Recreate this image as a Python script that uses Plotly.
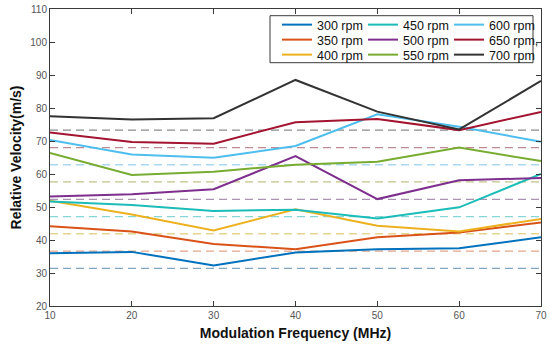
import plotly.graph_objects as go

freq = [10, 20, 30, 40, 50, 60, 70]
labels = ["300 rpm", "350 rpm", "400 rpm", "450 rpm", "500 rpm", "550 rpm", "600 rpm", "650 rpm,", "700 rpm"]
v300 = [36.0, 36.4, 32.3, 36.2, 37.2, 37.5, 40.8]
v350 = [44.2, 42.6, 38.8, 37.2, 40.8, 42.3, 45.3]
v400 = [51.9, 47.7, 42.9, 49.3, 44.3, 42.6, 46.4]
v450 = [51.7, 50.6, 48.8, 49.2, 46.5, 49.9, 60.0]
v500 = [53.2, 53.9, 55.4, 65.4, 52.4, 58.1, 58.8]
v550 = [66.4, 59.7, 60.7, 62.8, 63.7, 68.0, 63.9]
v600 = [70.3, 65.9, 64.9, 68.5, 78.1, 74.3, 69.8]
v650 = [72.6, 69.7, 69.2, 75.7, 76.7, 73.3, 78.8]
v700 = [77.5, 76.5, 76.9, 88.5, 78.9, 73.5, 88.2]
series = [v300, v350, v400, v450, v500, v550, v600, v650, v700]
ref_levels = [31.4, 36.6, 41.9, 47.1, 52.3, 57.6, 62.8, 68.0, 73.3]

colors = ["#0072BD", "#D95319", "#EDB120", "#1CBDB8", "#7E2F8E", "#77AC30", "#4DBEEE", "#A2142F", "#333333"]
ref_colors = ["#7fa7c0", "#e3a58a", "#e5d48f", "#86d6d6", "#a993b0", "#c2c48a", "#a9d8ef", "#c08a95", "#8c8c8c"]

font_family = "Liberation Sans, Arial, sans-serif"

# legend grid: 3 columns x 3 rows (column-major like the original)
plot_l, plot_r, plot_t, plot_b = 50, 9, 9, 38
plot_w = 550 - plot_l - plot_r
plot_h = 344 - plot_t - plot_b
col_text_px = [308, 394, 480]
row_center_px = [25, 40, 55]

def px_x(px):
    return (px - plot_l) / plot_w

def px_y(py):
    return (344 - plot_b - py) / plot_h

fig = go.Figure()
for lvl, c in zip(ref_levels, ref_colors):
    fig.add_trace(go.Scatter(x=[freq[0], freq[-1]], y=[lvl, lvl], mode="lines",
                             line=dict(color=c, width=1.3, dash="8px,5px"),
                             showlegend=False, hoverinfo="skip"))

legend_layouts = {}
for i, (lab, vals, c) in enumerate(zip(labels, series, colors)):
    key = "legend" if i == 0 else f"legend{i + 1}"
    fig.add_trace(go.Scatter(x=freq, y=vals, mode="lines", name=lab,
                             line=dict(color=c, width=2), legend=key))
    col, row = divmod(i, 3)
    legend_layouts[key] = dict(
        x=px_x(col_text_px[col] - 31), y=px_y(row_center_px[row]),
        xanchor="left", yanchor="middle",
        bgcolor="rgba(0,0,0,0)", borderwidth=0,
        font=dict(size=12.5, color="#111111", family=font_family),
        itemwidth=30)

axis_common = dict(showline=True, linecolor="#3a3a3a", linewidth=1, mirror="ticks",
                   ticks="inside", ticklen=5, tickcolor="#3a3a3a", showgrid=False,
                   zeroline=False, tickfont=dict(size=10, color="#555555", family=font_family))
fig.update_xaxes(range=[10, 70], tickvals=freq, ticklabeloverflow="allow",
                 title=dict(text="<b>Modulation Frequency (MHz)</b>",
                            font=dict(size=14, color="#111111", family=font_family), standoff=8),
                 **axis_common)
fig.update_yaxes(range=[20, 110], dtick=10,
                 title=dict(text="<b>Relative Velocity(m/s)</b>",
                            font=dict(size=14, color="#111111", family=font_family), standoff=5),
                 **axis_common)

fig.update_layout(
    width=550, height=344,
    margin=dict(l=plot_l, r=plot_r, t=plot_t, b=plot_b, autoexpand=False),
    plot_bgcolor="white", paper_bgcolor="white",
    font=dict(family=font_family),
    shapes=[dict(type="rect", xref="paper", yref="paper", layer="above",
                 x0=px_x(270), x1=px_x(533), y0=px_y(62.7), y1=px_y(15.7),
                 fillcolor="white", line=dict(color="#3a3a3a", width=1))],
    **legend_layouts,
)
fig.write_html("out.html", config={"displayModeBar": False},
               post_script="document.body.style.margin='0';")
